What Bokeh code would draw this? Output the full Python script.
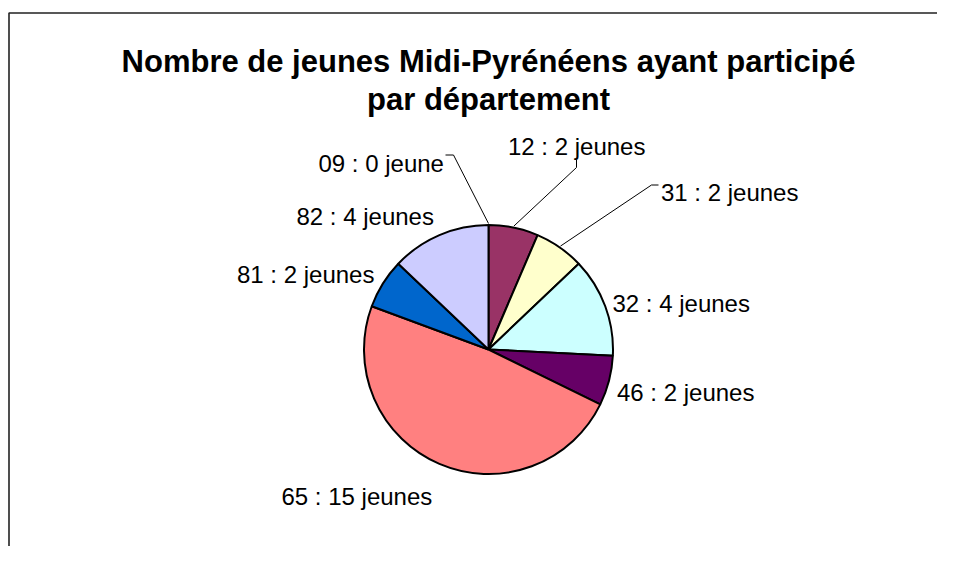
import math
from bokeh.plotting import figure
from bokeh.models import Range1d, ColumnDataSource
from bokeh.core.properties import value
from bokeh.embed import file_html
from bokeh.resources import INLINE

# ---- data ----
departements = ["09", "12", "31", "32", "46", "65", "81", "82"]
jeunes = [0, 2, 2, 4, 2, 15, 2, 4]
couleurs = ["#9999FF", "#993366", "#FFFFCC", "#CCFFFF", "#660066", "#FF8080", "#0066CC", "#CCCCFF"]
title_lines = ["Nombre de jeunes Midi-Pyrénéens ayant participé", "par département"]

# ---- layout (image pixel coordinates; data y = H - image y) ----
W, H = 937, 546
def Y(y_img):
    return H - y_img

cx, cy, R = 488, Y(349), 124.5
label_x = [318, 507.5, 660.5, 612, 616.5, 281, 236.5, 296]
label_base = [163, 146, 192, 302.5, 391.5, 495.5, 274, 216]
# leader lines: (dept index, start point, elbow point)
leaders = [(0, (445, 154.5), (453, 154.5)),
           (1, (576, 159), (576, 167)),
           (2, (658, 184.5), (651, 184.5))]

p = figure(width=W, height=H, x_range=Range1d(0, W), y_range=Range1d(0, H),
           x_axis_type=None, y_axis_type=None, output_backend="svg",
           toolbar_location=None, min_border=0)
p.grid.visible = False
p.outline_line_color = None
p.background_fill_color = "white"
p.border_fill_color = "white"

# chart border (top and left visible in the crop)
p.line(x=[8.5, 8.5, W], y=[Y(H), Y(12.5), Y(12.5)], line_color="#222222", line_width=1.6)

# pie
total = sum(jeunes)
cum = 0
starts, ends, mids = [], [], []
for v in jeunes:
    a0 = math.pi / 2 - 2 * math.pi * cum / total
    cum += v
    a1 = math.pi / 2 - 2 * math.pi * cum / total
    starts.append(a0)
    ends.append(a1)
    mids.append((a0 + a1) / 2)

idx = [i for i, v in enumerate(jeunes) if v > 0]
src = ColumnDataSource(dict(
    start=[starts[i] for i in idx], end=[ends[i] for i in idx],
    color=[couleurs[i] for i in idx]))
p.wedge(x=cx, y=cy, radius=R, start_angle="start", end_angle="end", direction="clock",
        fill_color="color", line_color="black", line_width=2, source=src)

# leader lines
for i, s, e in leaders:
    ex = cx + (R + 1.5) * math.cos(mids[i])
    ey = cy + (R + 1.5) * math.sin(mids[i])
    p.line(x=[s[0], e[0], ex], y=[Y(s[1]), Y(e[1]), ey], line_color="black", line_width=1)

# labels
labels = [f"{d} : {v} jeune{'s' if v > 1 else ''}" for d, v in zip(departements, jeunes)]
p.text(x=label_x, y=[Y(b) for b in label_base], text=labels,
       text_font=value("Liberation Sans"), text_font_size="24px",
       text_align="left", text_baseline="alphabetic", text_color="black")

# title
p.text(x=[488, 488], y=[Y(61), Y(99)], text=title_lines,
       text_font=value("Liberation Sans"), text_font_size="31px", text_font_style="bold",
       text_align="center", text_baseline="alphabetic", text_color="black")

open("out.html", "w").write(file_html(p, INLINE))
